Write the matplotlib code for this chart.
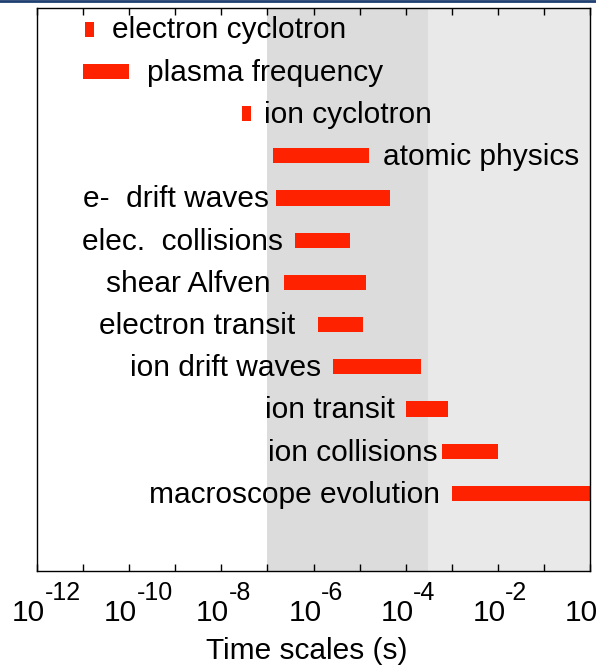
import numpy as np
import matplotlib
matplotlib.use("Agg")
import matplotlib.pyplot as plt
from matplotlib.ticker import LogLocator, NullFormatter

plt.rcParams['font.family'] = ['Liberation Sans', 'DejaVu Sans']

# ---- data (time ranges in seconds) ----
processes = ["electron cyclotron", "plasma frequency", "ion cyclotron",
             "atomic physics", "e-  drift waves", "elec.  collisions",
             "shear Alfven", "electron transit", "ion drift waves",
             "ion transit", "ion collisions", "macroscope evolution"]
t_start = [1.1e-11, 1.0e-11, 2.8e-8, 1.3e-7, 1.5e-7, 4.0e-7,
           2.3e-7, 1.25e-6, 2.6e-6, 1.0e-4, 6.2e-4, 1.0e-3]
t_end = [1.7e-11, 1.0e-10, 4.4e-8, 1.6e-5, 4.6e-5, 6.2e-6,
         1.4e-5, 1.2e-5, 2.2e-4, 8.3e-4, 1.0e-2, 1.0e0]
label_side = ["right", "right", "right", "right", "left", "left",
              "left", "left", "left", "left", "left", "left"]
label_gap = [18, 18, 13, 14, 7, 12, 13, 23, 11, 11, 5, 12]   # px

# labelled decades on the x axis
label_exponents = [-12, -10, -8, -6, -4, -2, 0]

# shaded bands
band_dark = (1e-7, 3e-4)
band_light = (3e-4, 1e0)

FS = 21.5
PX = 72 / 100   # points per pixel at dpi 100

fig = plt.figure(figsize=(5.96, 6.71), dpi=100)
ax = fig.add_axes([37 / 596, 100 / 671, 553 / 596, 563 / 671])

ax.axvspan(*band_dark, color="#dcdcdc", zorder=0, lw=0)
ax.axvspan(*band_light, color="#e9e9e9", zorder=0, lw=0)

y = np.arange(len(processes))
widths = np.array(t_end) - np.array(t_start)
ax.barh(y, widths, left=t_start, height=0.36, color="#ff2200", zorder=2)

for i, name in enumerate(processes):
    if label_side[i] == "right":
        ax.annotate(name, (t_end[i], i), xytext=(label_gap[i] * PX, -1),
                    textcoords="offset points", ha="left", va="center",
                    fontsize=FS, color="black")
    else:
        ax.annotate(name, (t_start[i], i), xytext=(-label_gap[i] * PX, -1),
                    textcoords="offset points", ha="right", va="center",
                    fontsize=FS, color="black")

ax.set_xscale("log")
ax.set_xlim(1e-12, 1e0)
ax.set_ylim(12.84, -0.5)
ax.set_yticks([])

ax.xaxis.set_major_locator(LogLocator(base=10, numticks=20))
ax.xaxis.set_minor_locator(LogLocator(base=10, subs=[], numticks=20))
ax.xaxis.set_major_formatter(NullFormatter())
ax.tick_params(axis="x", which="major", direction="in", length=5, width=1,
               top=True)
for s in ax.spines.values():
    s.set_linewidth(1.0)

# tick labels drawn as "10" with a large raised exponent
xform = ax.get_xaxis_transform()
for e in label_exponents:
    ax.annotate("10", (10.0 ** e, 0), xycoords=xform,
                xytext=(8 * PX, -50 * PX), textcoords="offset points",
                ha="right", va="baseline", fontsize=FS, annotation_clip=False)
    ax.annotate("%d" % e, (10.0 ** e, 0), xycoords=xform,
                xytext=(7.5 * PX, -29 * PX), textcoords="offset points",
                ha="left", va="baseline", fontsize=18, annotation_clip=False)

fig.text(306.5 / 596, 1 - 659 / 671, "Time scales (s)", ha="center",
         va="baseline", fontsize=FS)

# thin navy rule at the top of the slide
fig.add_artist(plt.Line2D([0, 1], [0.999, 0.999], transform=fig.transFigure,
                          color="#1f3f70", lw=2))

fig.savefig("out.png", dpi=100)
